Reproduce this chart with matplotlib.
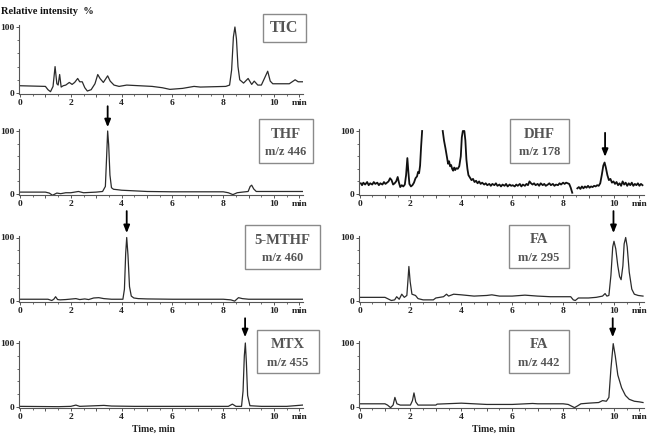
import matplotlib
matplotlib.use("Agg")
import matplotlib.pyplot as plt
from matplotlib.patches import Rectangle
import numpy as np

plt.rcParams['font.family'] = ['Liberation Serif', 'DejaVu Serif']

W, H = 654, 442

# ---- traces (time in min, relative intensity in %) ----
tic_t = [0.0, 0.5, 1.0, 1.1, 1.2, 1.3, 1.38, 1.45, 1.5, 1.56, 1.62, 1.7, 1.8, 1.94, 2.05, 2.15, 2.27, 2.35,
         2.45, 2.55, 2.65, 2.8, 2.95, 3.06, 3.15, 3.28, 3.45, 3.55, 3.7, 3.9, 4.2, 4.7, 5.2, 5.6, 5.9, 6.4,
         6.85, 7.1, 7.6, 8.1, 8.25, 8.33, 8.4, 8.46, 8.52, 8.58, 8.65, 8.8, 8.98, 9.12, 9.22, 9.36, 9.5,
         9.62, 9.75, 9.85, 9.95, 10.2, 10.6, 10.83, 10.95, 11.12]
tic_i = [11, 10.5, 10, 5, 2, 10, 40, 14, 12, 28, 9, 11, 12, 16, 13, 16, 22, 17, 17, 8, 3, 5, 14, 28, 22, 16,
         26, 18, 12, 10, 12, 11, 10, 8, 5.5, 7, 10, 9, 9.5, 10, 12, 35, 85, 100, 82, 40, 20, 15, 22, 13,
         18, 12, 12, 22, 33, 18, 14, 14, 14, 20, 17, 17]

thf_t = [0.0, 1.0, 1.15, 1.28, 1.45, 1.6, 1.8, 2.0, 2.3, 2.5, 3.0, 3.25, 3.36, 3.41, 3.45, 3.49, 3.54,
         3.6, 3.68, 3.8, 4.0, 4.5, 5.0, 6.0, 7.0, 8.0, 8.2, 8.38, 8.55, 8.75, 8.98, 9.06, 9.12, 9.2, 9.3,
         10.0, 11.12]
thf_i = [3, 3, 1.5, -2, 1.5, 0.5, 2, 2, 4, 2, 3, 4, 12, 60, 100, 78, 30, 10, 7.5, 7, 6, 5, 4, 3.5, 3.5,
         3.5, 2, -1, 2, 3, 4, 12, 14, 8, 4, 4, 4]

mthf_t = [0.0, 1.1, 1.25, 1.33, 1.4, 1.48, 1.58, 1.8, 2.2, 2.35, 2.55, 2.7, 2.9, 3.1, 3.3, 3.6, 4.05,
          4.11, 4.16, 4.2, 4.25, 4.31, 4.38, 4.48, 4.65, 5.0, 6.0, 7.0, 8.0, 8.3, 8.45, 8.6, 8.75, 9.0,
          11.12]
mthf_i = [2, 2, 0, 2, 6, 1.5, 1, 1.5, 3, 1.5, 2.5, 1.5, 4, 4.5, 3, 2, 2, 18, 75, 100, 72, 22, 7, 4, 3,
          2.5, 2, 2, 2, 1, -1, 4.5, 3, 2, 2]

mtx_t = [0.0, 1.5, 2.0, 2.2, 2.35, 3.0, 3.3, 3.6, 4.5, 8.2, 8.36, 8.5, 8.72, 8.78, 8.83, 8.87, 8.91,
         8.96, 9.05, 9.5, 10.5, 11.12]
mtx_i = [1, 0.5, 1, 3, 1, 2, 2.5, 1.5, 1, 1, 4.5, 1, 1, 25, 80, 100, 70, 18, 2, 1, 1, 3]

dhf_t = [0.05, 0.1, 0.15, 0.22, 0.3, 0.36, 0.42, 0.5, 0.56, 0.62, 0.7, 0.76, 0.82, 0.9, 0.96, 1.02,
         1.08, 1.14, 1.2, 1.26, 1.32, 1.38, 1.44, 1.5, 1.55, 1.6, 1.66, 1.72, 1.78, 1.83, 1.88, 1.92,
         1.96, 2.02, 2.08, 2.14, 2.2, 2.26, 2.3, 2.34, 2.38, 2.42, 2.46, 2.47,
         3.27, 3.32, 3.38, 3.44, 3.48, 3.52, 3.56, 3.6, 3.64, 3.68, 3.72, 3.76, 3.8, 3.86, 3.92, 3.98,
         4.02, 4.06, 4.12, 4.16, 4.2, 4.24, 4.28, 4.34, 4.4, 4.46, 4.52, 4.58, 4.64, 4.7, 4.76, 4.82,
         4.9, 4.96, 5.02, 5.1, 5.16, 5.22, 5.3, 5.36, 5.42, 5.5, 5.56, 5.62, 5.7, 5.76, 5.82, 5.9, 5.96,
         6.02, 6.1, 6.16, 6.22, 6.3, 6.36, 6.42, 6.5, 6.56, 6.62, 6.68, 6.74, 6.8, 6.86, 6.92, 7.0, 7.06,
         7.12, 7.2, 7.26, 7.32, 7.4, 7.46, 7.52, 7.6, 7.66, 7.72, 7.8, 7.86, 7.92, 8.0, 8.06, 8.12, 8.18,
         8.24, 8.3, 8.36, 8.4,
         8.56, 8.62, 8.68, 8.74, 8.8, 8.86, 8.92, 8.98, 9.04, 9.1, 9.16, 9.22, 9.28, 9.34, 9.4, 9.46,
         9.52, 9.58, 9.63, 9.68, 9.74, 9.8, 9.86, 9.92, 9.98, 10.04, 10.1, 10.16, 10.22, 10.28, 10.34,
         10.4, 10.46, 10.52, 10.58, 10.64, 10.7, 10.76, 10.82, 10.88, 10.94, 11.0, 11.06, 11.12]
dhf_i = [17, 14, 18, 15, 19, 14, 17, 15, 19, 16, 18, 14, 17, 15, 19, 16, 18, 20, 25, 22, 15, 17, 20,
         27, 18, 11, 14, 12, 15, 30, 57, 35, 16, 12, 14, 18, 25, 28, 35, 33, 45, 75, 100, np.nan,
         100, 85, 72, 58, 48, 52, 44, 46, 40, 37, 42, 38, 41, 40, 44, 60,
         90, 100, 100, 85, 55, 40, 30, 26, 22, 24, 19, 21, 17, 20, 16, 18,
         15, 17, 14, 16, 13, 16, 14, 17, 13, 15, 12, 15, 13, 16, 12, 15, 13,
         14, 12, 15, 13, 16, 12, 15, 13, 16, 14, 20, 17, 15, 17, 14, 16, 13,
         17, 14, 16, 13, 15, 17, 14, 16, 13, 15, 14, 17, 15, 18, 16, 18, 17,
         16, 10, 2, np.nan,
         9, 11, 8, 12, 9, 12, 10, 13, 10, 12, 11, 13, 12, 14, 13, 17,
         30, 45, 50, 42, 30, 22, 24, 18, 20, 16, 19, 14, 17, 13, 20,
         15, 18, 13, 17, 14, 18, 13, 16, 14, 17, 13, 16, 14]

fa295_t = [0.0, 1.0, 1.1, 1.25, 1.38, 1.46, 1.56, 1.66, 1.76, 1.86, 1.9, 1.94, 1.99, 2.06, 2.2, 2.3,
           2.5, 2.9, 3.0, 3.3, 3.42, 3.5, 3.7, 4.0, 4.5, 5.0, 5.2, 5.5, 6.0, 6.5, 7.0, 7.5, 8.0, 8.3,
           8.4, 8.48, 8.6, 9.0, 9.3, 9.55, 9.65, 9.72, 9.8, 9.88, 9.95, 10.0, 10.07, 10.15, 10.22,
           10.28, 10.35, 10.4, 10.46, 10.52, 10.6, 10.7, 10.8, 10.95, 11.14]
fa295_i = [5, 5, 3, 0, 1, 6, 2, 10, 5, 8, 30, 54, 30, 10, 8, 3, 1, 1, 4, 6, 10, 7, 10, 9, 7, 8, 9, 7, 7,
           8.5, 7, 6, 6, 6, 1, 0, 4, 4, 5, 7, 11, 7, 8, 40, 85, 94, 82, 55, 38, 33, 55, 90, 100, 85, 45,
           18, 10, 8, 7]

fa442_t = [0.0, 1.0, 1.1, 1.22, 1.32, 1.39, 1.47, 1.6, 2.0, 2.08, 2.14, 2.21, 2.3, 3.0, 3.05, 4.0,
           4.5, 5.0, 6.0, 6.8, 7.0, 8.0, 8.2, 8.45, 8.58, 8.7, 9.0, 9.4, 9.55, 9.7, 9.8, 9.88, 9.97,
           10.05, 10.15, 10.3, 10.45, 10.6, 10.8, 11.0, 11.14]
fa442_i = [5, 5, 3, -1, 3, 15, 5, 3, 3, 10, 22, 8, 3, 3, 4.5, 6, 5, 4, 4, 5.5, 5, 5, 4, -1, 2, 5, 6,
           7, 10, 9, 15, 60, 99, 80, 50, 30, 18, 12, 9, 8, 7]

# ---- figure ----
fig = plt.figure(figsize=(W / 100, H / 100), dpi=100)
line_col = '#2b2b2b'
spine_col = '#555555'


def panel(x_left, x_right, y100, y0, xmax):
    pxp = (y0 - y100) / 100.0
    top = y100 - 3 * pxp
    bot = y0 + 2 * pxp
    ax = fig.add_axes([x_left / W, 1 - bot / H, (x_right - x_left) / W, (bot - top) / H])
    ax.set_xlim(-0.04, xmax)
    ax.set_ylim(-2, 103)
    for s in ('top', 'right'):
        ax.spines[s].set_visible(False)
    for s in ('left', 'bottom'):
        ax.spines[s].set_color(spine_col)
        ax.spines[s].set_linewidth(0.8)
    ax.set_xticks(range(0, 12))
    ax.set_xticklabels(['0', '', '2', '', '4', '', '6', '', '8', '', '10', 'min'])
    ax.set_xticks(np.arange(0.5, 11, 1.0), minor=True)
    ax.set_yticks([0, 100])
    ax.set_yticklabels(['0', '100'])
    ax.set_yticks([20, 40, 60, 80], minor=True)
    ax.tick_params(which='major', length=2.2, width=0.7, color=spine_col, pad=1.5,
                   labelsize=6.8, labelcolor='#222222')
    ax.tick_params(axis='y', which='major', pad=0.8)
    ax.tick_params(which='minor', length=1.6, width=0.6, color=spine_col)
    for lab in ax.get_xticklabels() + ax.get_yticklabels():
        lab.set_fontweight('bold')
    return ax


LX = (19, 302.5, 11.12)
RX = (358.5, 643.5, 11.16)

ax_tic = panel(LX[0], LX[1], 27, 93, LX[2])
ax_thf = panel(LX[0], LX[1], 131, 194, LX[2])
ax_mthf = panel(LX[0], LX[1], 237.5, 300.5, LX[2])
ax_mtx = panel(LX[0], LX[1], 343, 407, LX[2])
ax_dhf = panel(RX[0], RX[1], 131, 194, RX[2])
ax_fa1 = panel(RX[0], RX[1], 237.5, 300.5, RX[2])
ax_fa2 = panel(RX[0], RX[1], 343, 407, RX[2])

ax_tic.plot(tic_t, tic_i, color=line_col, lw=0.9)
ax_thf.plot(thf_t, thf_i, color=line_col, lw=0.9)
ax_mthf.plot(mthf_t, mthf_i, color=line_col, lw=0.9)
ax_mtx.plot(mtx_t, mtx_i, color=line_col, lw=0.9)
ax_dhf.plot(dhf_t, dhf_i, color='#111111', lw=1.3)
ax_fa1.plot(fa295_t, fa295_i, color=line_col, lw=0.9)
ax_fa2.plot(fa442_t, fa442_i, color=line_col, lw=0.9)

# arrows pointing at the analyte peaks
arrows = [(ax_thf, 3.45, 106, 21), (ax_mthf, 4.2, 107, 22), (ax_mtx, 8.86, 109, 19),
          (ax_dhf, 9.65, 59, 24), (ax_fa1, 9.98, 107, 22), (ax_fa2, 9.95, 109, 19)]
for ax, t, yv, ln in arrows:
    ax.annotate('', xy=(t, yv), xytext=(0, ln * 0.72), textcoords='offset points',
                annotation_clip=False,
                arrowprops=dict(arrowstyle='-|>,head_width=0.18,head_length=0.45',
                                color='black', lw=1.3, shrinkA=0, shrinkB=0))

# label boxes
boxes = [
    ((263, 14, 306, 42), [('TIC', 28, 11.5)]),
    ((259, 119, 313, 163), [('THF', 134.5, 10.5), ('m/z 446', 152, 9)]),
    ((510, 119, 569, 163), [('DHF', 135, 10.5), ('m/z 178', 152, 9)]),
    ((245, 225, 320, 269), [('5-MTHF', 241, 10.5), ('m/z 460', 258, 9)]),
    ((509, 225, 569, 268), [('FA', 240, 10.5), ('m/z 295', 258, 9)]),
    ((257, 330, 319, 373), [('MTX', 345, 10.5), ('m/z 455', 363, 9)]),
    ((509, 330, 569, 373), [('FA', 345, 10.5), ('m/z 442', 363, 9)]),
]
for (x0, y0, x1, y1), lines in boxes:
    fig.add_artist(Rectangle((x0 / W, 1 - y1 / H), (x1 - x0) / W, (y1 - y0) / H,
                             transform=fig.transFigure, fill=False, edgecolor='#8a8a8a', lw=1.0))
    for txt, yc, fs in lines:
        fig.text((x0 + x1) / 2 / W, 1 - yc / H, txt, ha='center', va='center',
                 fontsize=fs, fontweight='bold', color='#555555')

fig.text(1 / W, 1 - 12 / H, 'Relative intensity  %', ha='left', va='center',
         fontsize=7.5, fontweight='bold', color='#111111')
fig.text(153 / W, 1 - 429 / H, 'Time, min', ha='center', va='center',
         fontsize=7, fontweight='bold', color='#222222')
fig.text(493 / W, 1 - 429 / H, 'Time, min', ha='center', va='center',
         fontsize=7, fontweight='bold', color='#222222')

fig.savefig('out.png', dpi=100)
